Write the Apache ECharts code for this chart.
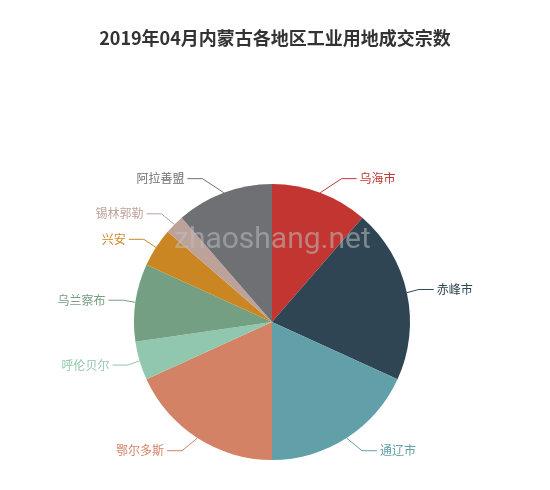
<!DOCTYPE html>
<html>
<head>
<meta charset="utf-8">
<script src="https://cdn.jsdelivr.net/npm/echarts@6/dist/echarts.min.js"></script>
<style>
    html, body { margin: 0; padding: 0; background: #fff; }
    #J_pie { width: 550px; height: 490px; }
</style>
</head>
<body>
<div id="J_pie"></div>
<script>
const FONT = '"Noto Sans CJK SC", "Noto Sans", sans-serif';

// 各地区（顺时针，从正上方开始）
const regions = ['乌海市', '赤峰市', '通辽市', '鄂尔多斯', '呼伦贝尔', '乌兰察布', '兴安', '锡林郭勒', '阿拉善盟'];
// 成交宗数
const counts = [5, 9, 8, 8, 2, 4, 2, 1, 5];
const colors = ['#c23531', '#2f4554', '#61a0a8', '#d48265', '#91c7ae', '#749f83', '#ca8622', '#bda29a', '#6e7074'];

const CX = 272, CY = 322, R = 138;
const LEN = 15, LEN2 = 15;

// 老版本的标签排布：文字落在 R+LEN+LEN2 的圆上
function oldLabelLayout(params) {
    let total = counts.reduce((a, b) => a + b, 0);
    let before = 0;
    for (let i = 0; i < params.dataIndex; i++) before += counts[i];
    let mid = (before + counts[params.dataIndex] / 2) / total * Math.PI * 2;
    let sx = Math.sin(mid), cy = -Math.cos(mid);
    let dir = sx < 0 ? -1 : 1;
    let y = CY + (R + LEN) * cy;
    let dy = Math.abs(y - CY);
    let rr = R + LEN + LEN2;
    let dx = Math.sqrt(rr * rr - dy * dy);
    let x = CX + dir * dx;
    let lineEnd = x - dir * 3;
    return {
        x: x,
        y: y,
        align: dir > 0 ? 'left' : 'right',
        verticalAlign: 'middle',
        labelLinePoints: [
            [CX + R * sx, CY + R * cy],
            [lineEnd - dir * LEN2, y],
            [lineEnd, y]
        ]
    };
}

function initPie() {
    let data = regions.map((name, i) => ({
        name: name,
        value: counts[i],
        label: {color: colors[i]},
        labelLine: {lineStyle: {color: colors[i]}}
    }));

    let options = {
        title: {
            text: '2019年04月内蒙古各地区工业用地成交宗数',
            left: 'center',
            top: 24,
            textStyle: {
                fontSize: 18,
                fontWeight: 'bold',
                color: '#333',
                fontFamily: FONT
            }
        },
        color: colors,
        series: [{
            type: 'pie',
            radius: R,
            center: [CX, CY],
            startAngle: 90,
            clockwise: true,
            label: {
                fontSize: 12,
                fontFamily: FONT
            },
            labelLine: {
                length: LEN,
                length2: LEN2
            },
            labelLayout: oldLabelLayout,
            emphasis: {scale: false},
            data: data
        }],
        graphic: [{
            type: 'text',
            left: 174,
            top: 225,
            z: 100,
            style: {
                text: 'zhaoshang.net',
                fontSize: 30,
                fontFamily: 'Roboto, sans-serif',
                fill: 'rgba(190, 190, 190, 0.55)'
            }
        }]
    };
    let pie = echarts.init(document.getElementById('J_pie'));
    pie.setOption(options);
}

initPie();
</script>
</body>
</html>
